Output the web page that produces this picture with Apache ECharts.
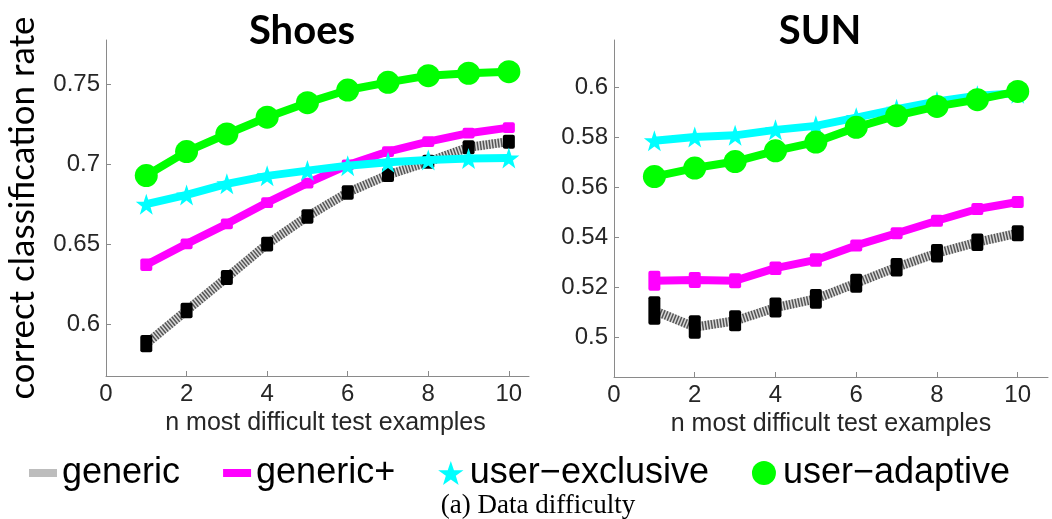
<!DOCTYPE html>
<html>
<head>
<meta charset="utf-8">
<script src="https://cdn.jsdelivr.net/npm/echarts@6/dist/echarts.min.js"></script>
<style>
html,body{margin:0;padding:0;background:#fff;}
#chart{width:1052px;height:519px;}
</style>
</head>
<body>
<div id="chart"></div>
<script>
// ---------- data ----------
const xValues = [1, 2, 3, 4, 5, 6, 7, 8, 9, 10];
const seriesNames = ['generic', 'generic+', 'user\u2212exclusive', 'user\u2212adaptive'];

// Shoes
const shoesGeneric       = [0.5877, 0.6085, 0.6291, 0.6500, 0.6673, 0.6823, 0.6933, 0.7015, 0.7106, 0.7141];
const shoesGenericErr    = [0.0035, 0.0030, 0.0028, 0.0028, 0.0026, 0.0026, 0.0025, 0.0025, 0.0025, 0.0025];
const shoesGenericPlus   = [0.6371, 0.6502, 0.6627, 0.6760, 0.6881, 0.6995, 0.7079, 0.7141, 0.7194, 0.7229];
const shoesGenericPlusErr= [0.0020, 0.0015, 0.0015, 0.0015, 0.0015, 0.0015, 0.0015, 0.0015, 0.0015, 0.0015];
const shoesExclusive     = [0.6750, 0.6808, 0.6877, 0.6927, 0.6960, 0.6991, 0.7012, 0.7027, 0.7035, 0.7039];
const shoesAdaptive      = [0.6929, 0.7079, 0.7189, 0.7294, 0.7385, 0.7464, 0.7512, 0.7554, 0.7569, 0.7579];

// SUN
const sunGeneric         = [0.5106, 0.5040, 0.5065, 0.5118, 0.5153, 0.5216, 0.5280, 0.5336, 0.5380, 0.5416];
const sunGenericErr      = [0.0045, 0.0035, 0.0030, 0.0028, 0.0028, 0.0026, 0.0025, 0.0025, 0.0023, 0.0020];
const sunGenericPlus     = [0.5226, 0.5229, 0.5226, 0.5276, 0.5309, 0.5367, 0.5416, 0.5466, 0.5513, 0.5541];
const sunGenericPlusErr  = [0.0028, 0.0020, 0.0018, 0.0015, 0.0015, 0.0012, 0.0012, 0.0012, 0.0012, 0.0012];
const sunExclusive       = [0.5786, 0.5801, 0.5808, 0.5830, 0.5846, 0.5879, 0.5913, 0.5944, 0.5967, 0.5977];
const sunAdaptive        = [0.5643, 0.5677, 0.5703, 0.5746, 0.5781, 0.5840, 0.5887, 0.5924, 0.5951, 0.5984];

// ticks
const xTicks = [0, 2, 4, 6, 8, 10];
const shoesYTicks = [0.6, 0.65, 0.7, 0.75];
const sunYTicks = [0.5, 0.52, 0.54, 0.56, 0.58, 0.6];

// ---------- styling ----------
const C_GEN = '#555555', C_GEN_BG = '#d8d8d8', C_PLUS = '#ff00ff', C_EXC = '#00ffff', C_ADA = '#00ff00';
const STAR = 'path://M50,2 L61.8,36.6 L98,36.6 L68.9,58.2 L79.6,93 L50,72 L20.4,93 L31.1,58.2 L2,36.6 L38.2,36.6 Z';
const tickFont = {fontFamily: 'Liberation Sans', fontSize: 24, color: '#262626'};
const axisGrey = '#8a8a8a';

function pairs(vals) { return xValues.map((x, i) => [x, vals[i]]); }
function triples(vals, errs) { return xValues.map((x, i) => [x, vals[i], errs[i]]); }

function errBars(name, idx, vals, errs, color, w, z) {
  return {
    type: 'custom', name: name, xAxisIndex: idx, yAxisIndex: idx, z: z,
    data: triples(vals, errs), encode: {x: 0, y: 1},
    silent: true,
    renderItem: function (params, api) {
      const x = api.value(0), y = api.value(1), e = api.value(2);
      const top = api.coord([x, y + e]);
      const bot = api.coord([x, y - e]);
      return {
        type: 'rect',
        shape: {x: top[0] - w / 2, y: top[1] - 3, width: w, height: bot[1] - top[1] + 6, r: 2},
        style: {fill: color}
      };
    }
  };
}

function panelSeries(idx, gen, genErr, plus, plusErr, exc, ada) {
  return [
    {type: 'line', name: 'generic-bg', xAxisIndex: idx, yAxisIndex: idx, z: 1, data: pairs(gen),
     showSymbol: false, silent: true, lineStyle: {color: C_GEN_BG, width: 9}},
    {type: 'line', name: seriesNames[0], xAxisIndex: idx, yAxisIndex: idx, z: 2, data: pairs(gen),
     showSymbol: false, lineStyle: {color: C_GEN, width: 9, type: [1.5, 1.5], cap: 'butt'},
     itemStyle: {color: '#bbbbbb'}},
    errBars(seriesNames[0], idx, gen, genErr, '#000', 12, 3),
    {type: 'line', name: seriesNames[1], xAxisIndex: idx, yAxisIndex: idx, z: 4, data: pairs(plus),
     showSymbol: false, lineStyle: {color: C_PLUS, width: 8}, itemStyle: {color: C_PLUS}},
    errBars(seriesNames[1], idx, plus, plusErr, C_PLUS, 12, 5),
    {type: 'line', name: seriesNames[2], xAxisIndex: idx, yAxisIndex: idx, z: 6, data: pairs(exc),
     symbol: STAR, symbolSize: 21, lineStyle: {color: C_EXC, width: 8}, itemStyle: {color: C_EXC}},
    {type: 'line', name: seriesNames[3], xAxisIndex: idx, yAxisIndex: idx, z: 7, data: pairs(ada),
     symbol: 'circle', symbolSize: 23, lineStyle: {color: C_ADA, width: 8}, itemStyle: {color: C_ADA}}
  ];
}

function xAxis(idx, max, namePad) {
  return {
    type: 'value', gridIndex: idx, min: 0, max: max,
    name: 'n most difficult test examples', nameLocation: 'middle', nameGap: 25,
    nameTextStyle: {fontFamily: 'Liberation Sans', fontSize: 25, color: '#262626', padding: namePad},
    axisLine: {show: true, lineStyle: {color: axisGrey, width: 1}},
    axisTick: {show: true, inside: true, length: 5, lineStyle: {color: axisGrey}, customValues: xTicks},
    axisLabel: Object.assign({margin: 6, customValues: xTicks, formatter: v => String(v)}, tickFont),
    splitLine: {show: false}
  };
}

function yAxis(idx, min, max, ticks, extra) {
  return Object.assign({
    type: 'value', gridIndex: idx, min: min, max: max,
    axisLine: {show: true, lineStyle: {color: axisGrey, width: 1}},
    axisTick: {show: true, inside: true, length: 5, lineStyle: {color: axisGrey}, customValues: ticks},
    axisLabel: Object.assign({margin: 6, customValues: ticks, formatter: v => String(+v.toFixed(3))}, tickFont),
    splitLine: {show: false}
  }, extra || {});
}

const chart = echarts.init(document.getElementById('chart'), null, {renderer: 'canvas'});
chart.setOption({
  animation: false,
  backgroundColor: '#fff',
  title: [
    {text: 'Shoes', left: 297, top: 6, textAlign: 'center',
     textStyle: {fontFamily: 'Lato', fontWeight: 'bold', fontSize: 40, color: '#000'}},
    {text: 'SUN', left: 815, top: 6, textAlign: 'center',
     textStyle: {fontFamily: 'Lato', fontWeight: 'bold', fontSize: 40, color: '#000'}},
    {text: '(a) Data difficulty', left: 533, top: 487, textAlign: 'center',
     textStyle: {fontFamily: 'Liberation Serif', fontWeight: 'normal', fontSize: 27, color: '#000'}}
  ],
  legend: {
    left: 24, top: 450, itemWidth: 28, itemHeight: 24, itemGap: 43,
    textStyle: {fontFamily: 'Liberation Sans', fontSize: 36, color: '#000'},
    data: [
      {name: seriesNames[0], icon: 'path://M0,0 h28 v8 h-28 Z', itemStyle: {color: '#bdbdbd'}},
      {name: seriesNames[1], icon: 'path://M0,0 h28 v8 h-28 Z', itemStyle: {color: C_PLUS}},
      {name: seriesNames[2], icon: STAR, itemStyle: {color: C_EXC}},
      {name: seriesNames[3], icon: 'circle', itemStyle: {color: C_ADA}}
    ]
  },
  grid: [
    {left: 106, top: 40, width: 423, height: 336},
    {left: 614, top: 40, width: 434, height: 337}
  ],
  xAxis: [xAxis(0, 10.5, [0, 0, 0, 16]), xAxis(1, 10.75, [0, 0, 0, 0])],
  yAxis: [
    yAxis(0, 0.5675, 0.7777, shoesYTicks, {
      name: 'correct classification rate', nameLocation: 'middle', nameRotate: 90, nameGap: 66,
      nameTextStyle: {fontFamily: 'Lato', fontSize: 35, color: '#000', padding: [0, 0, 0, 0]}
    }),
    yAxis(1, 0.484, 0.619, sunYTicks)
  ],
  series: [].concat(
    panelSeries(0, shoesGeneric, shoesGenericErr, shoesGenericPlus, shoesGenericPlusErr, shoesExclusive, shoesAdaptive),
    panelSeries(1, sunGeneric, sunGenericErr, sunGenericPlus, sunGenericPlusErr, sunExclusive, sunAdaptive)
  )
});
</script>
</body>
</html>
